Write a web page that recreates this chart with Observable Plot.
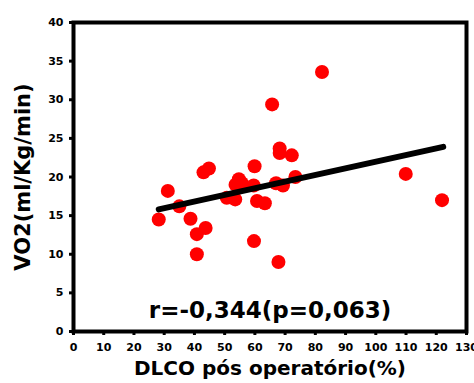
<!DOCTYPE html>
<html><head><meta charset="utf-8">
<script src="https://cdn.jsdelivr.net/npm/d3@7"></script>
<script src="https://cdn.jsdelivr.net/npm/@observablehq/plot@0.6"></script>
<style>
html,body{margin:0;padding:0;background:#fff;overflow:hidden;width:474px;height:383px}
</style>
</head><body>
<div id="chart"></div>
<script>
const dlco = [28.2,31.2,35.0,38.7,40.8,40.8,43.7,43.0,44.8,50.7,53.5,53.6,54.7,55.7,59.6,59.9,59.7,60.7,63.3,65.7,67.0,67.8,68.2,68.2,69.3,72.2,73.4,82.2,109.9,121.9];
const vo2  = [14.5,18.2,16.2,14.6,12.6,10.0,13.4,20.6,21.1,17.3,17.1,19.0,19.7,19.2,18.9,21.4,11.7,16.9,16.6,29.4,19.2,9.0,23.7,23.1,18.9,22.8,20.0,33.6,20.4,17.0];
const fitX = [28.2,122.3];
const fitY = [15.8,23.9];
const xTicks = d3.range(0,131,10);
const yTicks = d3.range(0,41,5);
const xTitle = "DLCO pós operatório(%)";
const yTitle = "VO2(ml/Kg/min)";
const note = "r=-0,344(p=0,063)";

const points = dlco.map((d,i)=>({x:d,y:vo2[i]}));
const fit = fitX.map((d,i)=>({x:d,y:fitY[i]}));

const chart = Plot.plot({
  width:474, height:383,
  marginLeft:73, marginRight:8, marginTop:22, marginBottom:52,
  style:{fontFamily:"DejaVu Sans", fontWeight:"bold", background:"#fff", color:"#000", overflow:"hidden"},
  x:{domain:[0,130]},
  y:{domain:[0,40]},
  marks:[
    Plot.dot(points,{x:"x",y:"y",r:7,fill:"#ff0000",stroke:"none"}),
    Plot.line(fit,{x:"x",y:"y",stroke:"#000",strokeWidth:6}),
    Plot.frame({stroke:"#000",strokeWidth:4}),
    Plot.axisX({ticks:xTicks,tickSize:4,strokeWidth:3,tickPadding:8,fontSize:11,label:null,fontWeight:"bold"}),
    Plot.axisY({ticks:yTicks,tickSize:4,strokeWidth:3,tickPadding:6,fontSize:11,label:null,fontWeight:"bold"}),
    Plot.text([note],{frameAnchor:"bottom",lineAnchor:"bottom",dy:-14,fontSize:23,fontWeight:"bold",fill:"#000"}),
    Plot.text([xTitle],{frameAnchor:"bottom",lineAnchor:"top",dy:29,fontSize:20,fontWeight:"bold",fill:"#000"}),
    Plot.text([yTitle],{frameAnchor:"left",rotate:-90,textAnchor:"middle",lineAnchor:"top",dx:-58,fontSize:21,fontWeight:"bold",fill:"#000"})
  ]
});
document.getElementById("chart").appendChild(chart);
</script>
</body></html>
